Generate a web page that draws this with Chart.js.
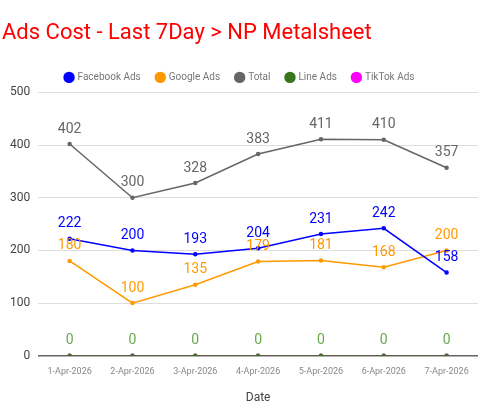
<!DOCTYPE html>
<html>
<head>
<meta charset="utf-8">
<script src="https://cdn.jsdelivr.net/npm/chart.js@4"></script>
<style>
  body { margin: 0; background: #fff; }
  #wrap { width: 500px; height: 415px; position: relative; }
</style>
</head>
<body>
<div id="wrap"><canvas id="adsChart"></canvas></div>
<script>
// Datos del gráfico
const fechas = ['1-Apr-2026', '2-Apr-2026', '3-Apr-2026', '4-Apr-2026', '5-Apr-2026', '6-Apr-2026', '7-Apr-2026'];
const facebookAds = [222, 200, 193, 204, 231, 242, 158];
const googleAds = [180, 100, 135, 179, 181, 168, 200];
const tiktokAds = [0, 0, 0, 0, 0, 0, 0];
const lineAds = [0, 0, 0, 0, 0, 0, 0];
const total = [402, 300, 328, 383, 411, 410, 357];

// Etiquetas de valores encima de cada punto
const etiquetasPlugin = {
    id: 'etiquetas',
    afterDatasetsDraw(chart) {
        const ctx = chart.ctx;
        ctx.save();
        ctx.font = '14px Roboto';
        ctx.textAlign = 'center';
        ctx.textBaseline = 'bottom';
        chart.data.datasets.forEach(function(ds, i) {
            if (ds.label === 'TikTok Ads') return;
            const meta = chart.getDatasetMeta(i);
            ctx.fillStyle = ds.labelColor || ds.borderColor;
            meta.data.forEach(function(pt, j) {
                ctx.fillText(ds.data[j], pt.x, pt.y - 8);
            });
        });
        ctx.restore();
    }
};

function serie(label, data, color, labelColor, orden) {
    return {
        label: label,
        data: data,
        borderColor: color,
        backgroundColor: color,
        labelColor: labelColor,
        order: orden,
        borderWidth: 1.5,
        pointRadius: 1.5,
        pointHoverRadius: 3,
        tension: 0
    };
}

new Chart(document.getElementById('adsChart'), {
    type: 'line',
    data: {
        labels: fechas,
        datasets: [
            serie('Facebook Ads', facebookAds, '#0000ff', null, 1),
            serie('Google Ads', googleAds, '#ff9900', null, 2),
            serie('TikTok Ads', tiktokAds, '#ff00ff', null, 5),
            serie('Line Ads', lineAds, '#38761d', '#6aa84f', 4),
            serie('Total', total, '#666666', null, 3)
        ]
    },
    options: {
        responsive: true,
        maintainAspectRatio: false,
        animation: false,
        layout: { padding: { left: 2, right: 22, top: 0, bottom: 6 } },
        plugins: {
            title: {
                display: true,
                text: 'Ads Cost - Last 7Day > NP Metalsheet',
                align: 'start',
                color: '#ff0000',
                font: { family: 'Roboto', size: 22, weight: 'normal' },
                padding: { top: 20, bottom: 10 }
            },
            legend: {
                labels: {
                    usePointStyle: true,
                    pointStyle: 'circle',
                    boxWidth: 7,
                    boxHeight: 7,
                    color: '#777',
                    font: { family: 'Roboto', size: 10 },
                    padding: 16
                }
            },
            tooltip: { enabled: false }
        },
        scales: {
            y: {
                min: 0,
                max: 500,
                ticks: { stepSize: 100, color: '#444', font: { family: 'Roboto', size: 12 }, padding: 8 },
                border: { display: false },
                grid: {
                    color: function(c) { return c.tick.value === 0 ? '#666' : '#ddd'; },
                    lineWidth: function(c) { return c.tick.value === 0 ? 1.5 : 1; },
                    drawTicks: false
                }
            },
            x: {
                offset: true,
                title: { display: true, text: 'Date', color: '#444', font: { family: 'Roboto', size: 12 }, padding: { top: 10 } },
                ticks: { color: '#888', font: { family: 'Roboto', size: 9 }, maxRotation: 0 },
                border: { display: false },
                grid: { display: false }
            }
        }
    },
    plugins: [etiquetasPlugin]
});
</script>
</body>
</html>
